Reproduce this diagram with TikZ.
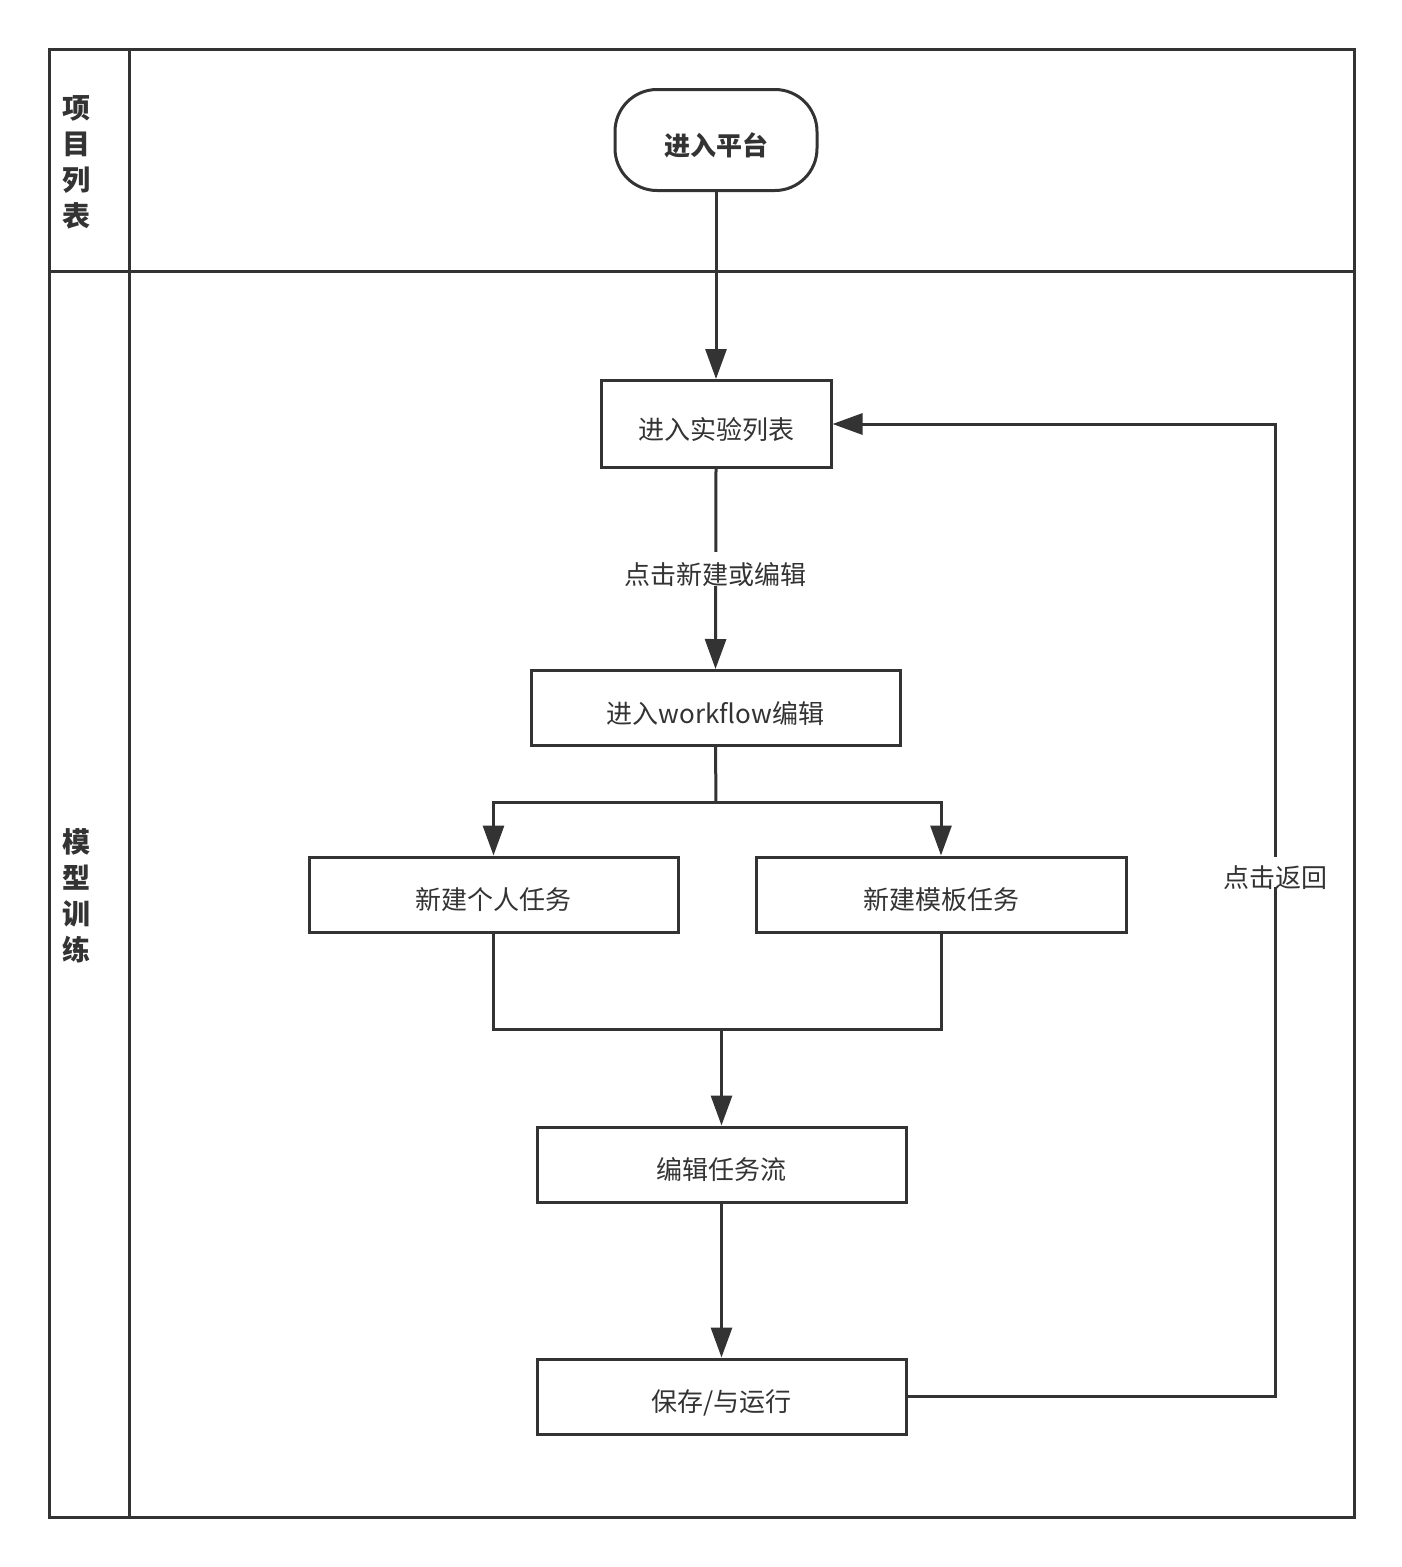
\documentclass[tikz,border=0pt]{standalone}
\usepackage{fontspec}
\setmainfont{Noto Sans CJK SC}
\usetikzlibrary{arrows.meta}
\definecolor{ink}{HTML}{333333}
\begin{document}
\begin{tikzpicture}[x=1pt,y=-1pt,
  line/.style={draw=ink,line width=3pt},
  proc/.style={draw=ink,line width=3pt,rectangle,inner sep=0pt,anchor=center,font=\fontsize{26}{30}\selectfont,text=ink,text height=30pt,text depth=0pt},
  arr/.style={line,-{Triangle[length=30pt,width=21pt]}},
  lbl/.style={fill=white,inner sep=2pt,font=\fontsize{26}{30}\selectfont,text=ink,text height=30pt,text depth=0pt},
  lane/.style={font=\fontsize{28}{36}\selectfont\bfseries,text=ink,align=center}]
\useasboundingbox (0,0) rectangle (1402,1567);
% frame
\draw[line] (49,49) rectangle (1354,1517);
\draw[line] (129,49) -- (129,1517);
\draw[line] (49,271) -- (1354,271);
\node[lane] (l1) at (76,162) {项\\目\\列\\表};
\node[lane] (l2) at (76,896) {模\\型\\训\\练};
% nodes
\node[proc,rounded corners=42pt,minimum width=202pt,minimum height=101pt,font=\fontsize{26}{30}\selectfont\bfseries] (start) at (716,140) {进入平台};
\node[proc,minimum width=230pt,minimum height=87pt] (list) at (716,424) {进入实验列表};
\node[proc,minimum width=369pt,minimum height=75pt] (wf) at (715.5,708) {进入workflow编辑};
\node[proc,minimum width=369pt,minimum height=75pt] (pers) at (493.5,894.5) {新建个人任务};
\node[proc,minimum width=370pt,minimum height=75pt] (tmpl) at (941,894.5) {新建模板任务};
\node[proc,minimum width=369pt,minimum height=75pt] (edit) at (721.5,1164.5) {编辑任务流};
\node[proc,minimum width=369pt,minimum height=75pt] (save) at (721.5,1396.5) {保存/与运行};
\coordinate (split) at (716,802);
\coordinate (merge) at (721.5,1029);
\coordinate (back) at (1275,1396.5);
% connectors
\draw[arr] (start.south) -- (list.north);
\draw[arr] (list.south) -- node[lbl,pos=0.5] (l3) {点击新建或编辑} (wf.north);
\draw[line] (wf.south) -- (split);
\draw[arr] (split) -| (pers.north);
\draw[arr] (split) -| (tmpl.north);
\draw[line] (pers.south) |- (merge);
\draw[line] (tmpl.south) |- (merge);
\draw[arr] (merge) -- (edit.north);
\draw[arr] (edit.south) -- (save.north);
\draw[arr] (save.east) -- (back) |- (list.east);
\node[lbl,inner sep=0pt] (l4) at (1275,872) {点击返回};
\end{tikzpicture}
\end{document}
